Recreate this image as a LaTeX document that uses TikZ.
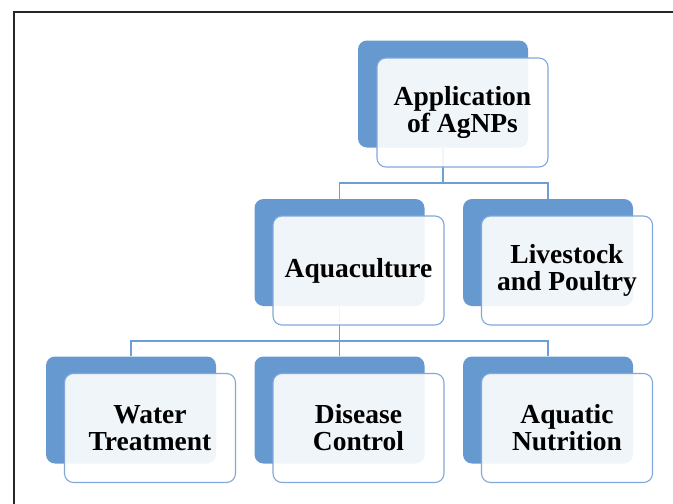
\documentclass[tikz,border=0pt]{standalone}
\usepackage{fontspec}
\setmainfont{Liberation Serif}
\definecolor{backblue}{RGB}{102,153,208}
\definecolor{frontedge}{RGB}{130,168,218}
\definecolor{connblue}{RGB}{110,158,214}
\begin{document}
\begin{tikzpicture}[x=1pt,y=-1pt,
  backbox/.style={draw=none,fill=backblue,rounded corners=9pt,minimum width=170pt,minimum height=107pt,inner sep=0pt},
  frontbox/.style={draw=frontedge,line width=1.1pt,fill=white,fill opacity=0.9,text opacity=1,rounded corners=9pt,minimum width=171pt,minimum height=109pt,inner sep=0pt,align=center,font=\fontsize{27.5}{27}\selectfont\bfseries},
  conn/.style={draw=connblue,line width=1.6pt},
  frame/.style={draw=black!85,line width=1.8pt}]
\useasboundingbox (0,0) rectangle (673,504);
\draw[frame] (14,505) -- (14,12) -- (674,12);
% back boxes
\node[backbox] (topB) at (443,94) {};
\node[backbox] (aqB) at (339.5,252.5) {};
\node[backbox] (lsB) at (548,252.5) {};
\node[backbox] (wtB) at (131,410) {};
\node[backbox] (dcB) at (339.5,410) {};
\node[backbox] (anB) at (548,410) {};
% connectors
\coordinate (j1) at (443,183);
\coordinate (j2) at (339.5,341);
\draw[conn] (topB.south) -- (j1) -| (aqB.north);
\draw[conn] (j1) -| (lsB.north);
\draw[conn] (aqB.south) -- (j2) -| (wtB.north);
\draw[conn] (j2) -- (dcB.north);
\draw[conn] (j2) -| (anB.north);
% front boxes
\node[frontbox] (top) at (462.5,112.5) {Application\\of AgNPs};
\node[frontbox] (aq) at (358.5,270.5) {Aquaculture};
\node[frontbox] (ls) at (567,270.5) {Livestock\\and Poultry};
\node[frontbox] (wt) at (150,428) {Water\\Treatment};
\node[frontbox] (dc) at (358.5,428) {Disease\\Control};
\node[frontbox] (an) at (567,428) {Aquatic\\Nutrition};
\end{tikzpicture}
\end{document}
